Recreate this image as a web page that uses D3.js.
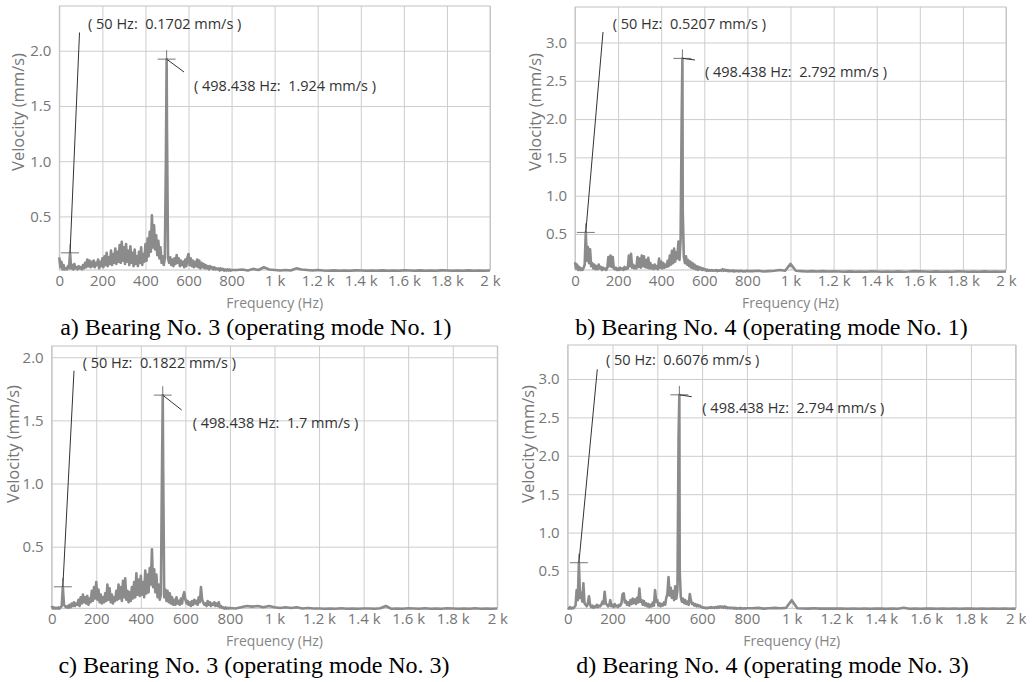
<!DOCTYPE html>
<html>
<head>
<meta charset="utf-8">
<script src="https://cdn.jsdelivr.net/npm/d3@7"></script>
<style>
  body { margin: 0; background: #fff; }
  svg { display: block; }
  text { font-family: "Open Sans", sans-serif; }
</style>
</head>
<body>
<div id="chart"></div>
<script>
// tick labels
var freqTicks = [0, 200, 400, 600, 800, 1000, 1200, 1400, 1600, 1800, 2000];
var freqTickLabels = ["0", "200", "400", "600", "800", "1 k", "1.2 k", "1.4 k", "1.6 k", "1.8 k", "2 k"];
var velTicks2 = [0.5, 1.0, 1.5, 2.0];
var velTicks3 = [0.5, 1.0, 1.5, 2.0, 2.5, 3.0];
var velTickLabels2 = ["0.5", "1.0", "1.5", "2.0"];
var velTickLabels3 = ["0.5", "1.0", "1.5", "2.0", "2.5", "3.0"];

var captions = [
  "a) Bearing No. 3 (operating mode No. 1)",
  "b) Bearing No. 4 (operating mode No. 1)",
  "c) Bearing No. 3 (operating mode No. 3)",
  "d) Bearing No. 4 (operating mode No. 3)"
];

// spectrum: 0..800 Hz every 5 Hz, 825..2000 Hz every 25 Hz (mm/s)
var lowStepHz = 5, highStartHz = 825, highStepHz = 25;

var lowA = [
  0.13, 0.04, 0.09, 0.02, 0.06, 0.02, 0.03, 0.02, 0.05, 0.03,
  0.17, 0.03, 0.06, 0.02, 0.07, 0.03, 0.04, 0.02, 0.05, 0.03,
  0.04, 0.02, 0.06, 0.03, 0.08, 0.04, 0.11, 0.05, 0.10, 0.04,
  0.09, 0.05, 0.10, 0.04, 0.08, 0.06, 0.11, 0.03, 0.09, 0.05,
  0.12, 0.04, 0.14, 0.06, 0.17, 0.05, 0.13, 0.07, 0.19, 0.06,
  0.16, 0.08, 0.21, 0.07, 0.18, 0.09, 0.24, 0.08, 0.27, 0.10,
  0.22, 0.07, 0.25, 0.09, 0.19, 0.06, 0.23, 0.08, 0.17, 0.05,
  0.20, 0.07, 0.14, 0.05, 0.18, 0.08, 0.22, 0.06, 0.16, 0.09,
  0.25, 0.10, 0.30, 0.14, 0.36, 0.18, 0.51, 0.22, 0.42, 0.20,
  0.33, 0.15, 0.28, 0.12, 0.22, 0.08, 0.14, 0.06, 0.12, 1.00,
  1.30, 0.12, 0.08, 0.13, 0.06, 0.11, 0.05, 0.12, 0.07, 0.15,
  0.08, 0.12, 0.05, 0.10, 0.06, 0.09, 0.04, 0.11, 0.05, 0.13,
  0.16, 0.06, 0.12, 0.05, 0.10, 0.04, 0.09, 0.05, 0.11, 0.04,
  0.10, 0.03, 0.08, 0.04, 0.07, 0.03, 0.06, 0.03, 0.05, 0.02,
  0.05, 0.03, 0.04, 0.02, 0.04, 0.02, 0.03, 0.02, 0.03, 0.01,
  0.03, 0.015, 0.025, 0.01, 0.02, 0.01, 0.02, 0.01, 0.02, 0.01,
  0.015
];
var highA = [
  0.015, 0.02, 0.01, 0.025, 0.015, 0.04, 0.02, 0.015,
  0.01, 0.015, 0.01, 0.03, 0.02, 0.015, 0.01, 0.015,
  0.01, 0.008, 0.012, 0.008, 0.01, 0.008, 0.012, 0.01,
  0.008, 0.01, 0.008, 0.012, 0.008, 0.01, 0.008, 0.012,
  0.01, 0.008, 0.012, 0.008, 0.01, 0.008, 0.012, 0.01,
  0.008, 0.01, 0.008, 0.012, 0.008, 0.01, 0.008, 0.01
];
var markA = [[50, 0.1702], [498.438, 1.924]];
var toneA = [];

var lowB = [
  0.13, 0.05, 0.10, 0.03, 0.07, 0.03, 0.05, 0.03, 0.06, 0.10,
  0.52, 0.15, 0.33, 0.12, 0.30, 0.08, 0.12, 0.05, 0.10, 0.04,
  0.08, 0.04, 0.10, 0.05, 0.07, 0.03, 0.06, 0.04, 0.05, 0.03,
  0.06, 0.20, 0.08, 0.22, 0.07, 0.20, 0.05, 0.04, 0.06, 0.03,
  0.05, 0.03, 0.06, 0.04, 0.05, 0.03, 0.07, 0.04, 0.06, 0.05,
  0.22, 0.08, 0.24, 0.06, 0.10, 0.05, 0.08, 0.05, 0.20, 0.07,
  0.18, 0.06, 0.22, 0.08, 0.21, 0.07, 0.16, 0.06, 0.19, 0.05,
  0.12, 0.05, 0.09, 0.04, 0.10, 0.05, 0.08, 0.04, 0.18, 0.06,
  0.14, 0.05, 0.12, 0.06, 0.10, 0.07, 0.15, 0.08, 0.22, 0.10,
  0.28, 0.12, 0.31, 0.14, 0.26, 0.18, 0.40, 0.16, 0.42, 2.00,
  0.80, 0.20, 0.12, 0.21, 0.10, 0.16, 0.08, 0.14, 0.06, 0.12,
  0.05, 0.10, 0.04, 0.08, 0.03, 0.07, 0.04, 0.06, 0.03, 0.05,
  0.03, 0.04, 0.02, 0.035, 0.02, 0.03, 0.02, 0.03, 0.02, 0.025,
  0.02, 0.03, 0.015, 0.025, 0.02, 0.03, 0.02, 0.04, 0.02, 0.035,
  0.02, 0.03, 0.015, 0.025, 0.015, 0.02, 0.015, 0.025, 0.01, 0.02,
  0.015, 0.02, 0.01, 0.02, 0.015, 0.02, 0.01, 0.015, 0.01, 0.02,
  0.015
];
var highB = [
  0.015, 0.02, 0.01, 0.015, 0.02, 0.03, 0.02, 0.02,
  0.02, 0.015, 0.01, 0.015, 0.01, 0.015, 0.01, 0.012,
  0.01, 0.008, 0.012, 0.008, 0.01, 0.008, 0.012, 0.01,
  0.008, 0.01, 0.008, 0.012, 0.008, 0.01, 0.015, 0.012,
  0.01, 0.008, 0.012, 0.008, 0.01, 0.008, 0.012, 0.01,
  0.008, 0.01, 0.008, 0.012, 0.008, 0.01, 0.008, 0.01
];
var markB = [[50, 0.5207], [498.438, 2.792]];
var toneB = [[1000, 0.11]];

var lowC = [
  0.03, 0.01, 0.02, 0.01, 0.015, 0.01, 0.02, 0.01, 0.02, 0.03,
  0.18, 0.04, 0.03, 0.02, 0.03, 0.015, 0.04, 0.02, 0.05, 0.03,
  0.06, 0.03, 0.05, 0.04, 0.08, 0.03, 0.10, 0.05, 0.12, 0.06,
  0.10, 0.05, 0.11, 0.04, 0.09, 0.06, 0.15, 0.07, 0.18, 0.09,
  0.22, 0.08, 0.16, 0.06, 0.12, 0.05, 0.10, 0.06, 0.13, 0.07,
  0.20, 0.08, 0.17, 0.06, 0.12, 0.05, 0.10, 0.07, 0.15, 0.08,
  0.20, 0.09, 0.18, 0.07, 0.23, 0.10, 0.25, 0.08, 0.15, 0.06,
  0.14, 0.07, 0.18, 0.09, 0.22, 0.10, 0.29, 0.12, 0.24, 0.11,
  0.27, 0.12, 0.22, 0.10, 0.31, 0.13, 0.28, 0.14, 0.33, 0.20,
  0.48, 0.18, 0.32, 0.14, 0.28, 0.10, 0.20, 0.08, 0.12, 1.10,
  1.20, 0.10, 0.16, 0.07, 0.15, 0.06, 0.13, 0.05, 0.10, 0.04,
  0.08, 0.04, 0.10, 0.05, 0.07, 0.04, 0.09, 0.05, 0.11, 0.14,
  0.08, 0.05, 0.07, 0.04, 0.06, 0.03, 0.07, 0.04, 0.08, 0.05,
  0.07, 0.04, 0.10, 0.06, 0.18, 0.08, 0.06, 0.04, 0.05, 0.03,
  0.07, 0.04, 0.06, 0.03, 0.05, 0.04, 0.06, 0.03, 0.05, 0.03,
  0.06, 0.02, 0.03, 0.015, 0.02, 0.01, 0.02, 0.01, 0.015, 0.01,
  0.015
];
var highC = [
  0.01, 0.02, 0.03, 0.025, 0.03, 0.02, 0.03, 0.02,
  0.015, 0.02, 0.015, 0.02, 0.01, 0.015, 0.01, 0.01,
  0.008, 0.01, 0.008, 0.012, 0.008, 0.01, 0.008, 0.01,
  0.01, 0.008, 0.012, 0.03, 0.008, 0.01, 0.008, 0.012,
  0.01, 0.008, 0.012, 0.008, 0.01, 0.008, 0.012, 0.01,
  0.008, 0.01, 0.008, 0.012, 0.008, 0.01, 0.008, 0.01
];
var markC = [[50, 0.1822], [498.438, 1.7]];
var toneC = [];

var lowD = [
  0.02, 0.01, 0.03, 0.01, 0.02, 0.015, 0.03, 0.05, 0.25, 0.12,
  0.61, 0.15, 0.22, 0.10, 0.34, 0.08, 0.06, 0.04, 0.08, 0.17,
  0.06, 0.03, 0.05, 0.02, 0.04, 0.03, 0.06, 0.03, 0.05, 0.04,
  0.06, 0.10, 0.07, 0.23, 0.08, 0.06, 0.04, 0.05, 0.12, 0.04,
  0.06, 0.03, 0.07, 0.04, 0.05, 0.03, 0.06, 0.05, 0.08, 0.20,
  0.21, 0.09, 0.11, 0.06, 0.09, 0.05, 0.12, 0.07, 0.14, 0.08,
  0.13, 0.07, 0.15, 0.09, 0.27, 0.10, 0.12, 0.06, 0.11, 0.05,
  0.08, 0.04, 0.07, 0.03, 0.06, 0.04, 0.09, 0.05, 0.25, 0.10,
  0.12, 0.05, 0.08, 0.04, 0.07, 0.05, 0.09, 0.06, 0.15, 0.20,
  0.42, 0.18, 0.28, 0.15, 0.24, 0.12, 0.30, 0.14, 0.25, 2.25,
  0.50, 0.16, 0.10, 0.14, 0.08, 0.12, 0.07, 0.10, 0.06, 0.20,
  0.12, 0.07, 0.08, 0.05, 0.07, 0.04, 0.06, 0.04, 0.05, 0.03,
  0.03, 0.02, 0.025, 0.015, 0.02, 0.015, 0.025, 0.02, 0.03, 0.02,
  0.025, 0.02, 0.03, 0.02, 0.035, 0.02, 0.04, 0.025, 0.035, 0.02,
  0.04, 0.02, 0.03, 0.015, 0.025, 0.015, 0.02, 0.015, 0.02, 0.01,
  0.02, 0.01, 0.015, 0.01, 0.02, 0.01, 0.015, 0.01, 0.015, 0.01,
  0.015
];
var highD = [
  0.015, 0.02, 0.01, 0.015, 0.02, 0.015, 0.02, 0.02,
  0.015, 0.012, 0.01, 0.015, 0.01, 0.012, 0.01, 0.012,
  0.01, 0.008, 0.012, 0.008, 0.01, 0.008, 0.012, 0.01,
  0.008, 0.01, 0.008, 0.02, 0.008, 0.01, 0.008, 0.012,
  0.01, 0.008, 0.012, 0.008, 0.01, 0.008, 0.012, 0.01,
  0.008, 0.01, 0.008, 0.012, 0.008, 0.01, 0.008, 0.01
];
var markD = [[50, 0.6076], [498.438, 2.794]];
var toneD = [[1000, 0.12]];

// layout of the four panels (pixels)
var panels = [
  {low: lowA, high: highA, marks: markA, tones: toneA, ticks: velTicks2, tickLabels: velTickLabels2,
   vmin: 0.015, vmax: 2.405, box: [59.3, 6, 430.7, 264], yTitle: [18, 112], cap: [255.8, 335],
   markText: [[88, 24], [194, 86]], leaderEnd: [[79.5, 32.5], [184, 72]]},
  {low: lowB, high: highB, marks: markB, tones: toneB, ticks: velTicks3, tickLabels: velTickLabels3,
   vmin: 0.03, vmax: 3.463, box: [575, 7, 431, 263], yTitle: [535, 112], cap: [771.5, 335],
   markText: [[612.7, 24], [705, 72]], leaderEnd: [[603, 32], [695, 60]]},
  {low: lowC, high: highC, marks: markC, tones: toneC, ticks: velTicks2, tickLabels: velTickLabels2,
   vmin: 0.012, vmax: 2.089, box: [51.7, 346, 445.6, 262.3], yTitle: [13, 444], cap: [254, 673],
   markText: [[82.7, 362.7], [192.7, 422.7]], leaderEnd: [[74, 370.7], [181.7, 410]]},
  {low: lowD, high: highD, marks: markD, tones: toneD, ticks: velTicks3, tickLabels: velTickLabels3,
   vmin: 0.014, vmax: 3.443, box: [567.7, 345, 448, 263.3], yTitle: [528, 444], cap: [772.5, 673],
   markText: [[606, 360], [702.3, 408.3]], leaderEnd: [[597.3, 369.3], [691.7, 396.7]]}
];

var svg = d3.select("#chart").append("svg")
  .attr("width", 1035)
  .attr("height", 682);

panels.forEach(function(p, k){
  var bx = p.box[0], by = p.box[1], bw = p.box[2], bh = p.box[3];
  var x = d3.scaleLinear().domain([0, 2000]).range([bx, bx + bw]);
  var y = d3.scaleLinear().domain([p.vmin, p.vmax]).range([by + bh, by]);
  var g = svg.append("g");

  // grid + tick labels
  var xa = g.append("g")
    .attr("transform", "translate(0," + (by + bh) + ")")
    .call(d3.axisBottom(x).tickValues(freqTicks)
      .tickFormat(function(d, i){ return freqTickLabels[i]; })
      .tickSize(-bh).tickPadding(5));
  var ya = g.append("g")
    .attr("transform", "translate(" + bx + ",0)")
    .call(d3.axisLeft(y).tickValues(p.ticks)
      .tickFormat(function(d, i){ return p.tickLabels[i]; })
      .tickSize(-bw).tickPadding(8));
  [xa, ya].forEach(function(a){
    a.select(".domain").remove();
    a.selectAll("line").attr("stroke", "#cdcdcd");
    a.selectAll("text")
      .attr("fill", "#767676")
      .style("font-size", "15px")
      .style("font-family", "'Open Sans', sans-serif");
  });

  g.append("rect")
    .attr("x", bx).attr("y", by)
    .attr("width", bw).attr("height", bh)
    .attr("fill", "none")
    .attr("stroke", "#c2c2c2");

  // spectrum
  var extra = p.marks.concat(p.tones);
  var pts = p.low.map(function(v, i){ return [i * lowStepHz, v]; })
    .concat(p.high.map(function(v, i){ return [highStartHz + i * highStepHz, v]; }))
    .filter(function(d){
      return !extra.some(function(e){ return Math.abs(e[0] - d[0]) < 1; });
    })
    .concat(extra)
    .sort(function(a, b){ return a[0] - b[0]; });

  g.append("path")
    .datum(pts)
    .attr("fill", "none")
    .attr("stroke", "#8b8b8b")
    .attr("stroke-width", 2.6)
    .attr("stroke-linejoin", "round")
    .attr("d", d3.line().x(function(d){ return x(d[0]); }).y(function(d){ return y(d[1]); }));

  // markers and labels
  p.marks.forEach(function(m, j){
    var px = x(m[0]), py = y(m[1]);
    g.append("line")
      .attr("x1", px - 9).attr("x2", px + 9)
      .attr("y1", py).attr("y2", py)
      .attr("stroke", "#777").attr("stroke-width", 1);
    g.append("line")
      .attr("x1", px).attr("x2", px)
      .attr("y1", py - 9).attr("y2", py)
      .attr("stroke", "#777").attr("stroke-width", 1);
    g.append("line")
      .attr("x1", px).attr("y1", py)
      .attr("x2", p.leaderEnd[j][0]).attr("y2", p.leaderEnd[j][1])
      .attr("stroke", "#333").attr("stroke-width", 1);
    g.append("text")
      .attr("x", p.markText[j][0])
      .attr("y", p.markText[j][1])
      .attr("dy", "0.35em")
      .style("white-space", "pre")
      .style("font-size", "14.5px")
      .attr("fill", "#333")
      .text("( " + m[0] + " Hz:  " + m[1] + " mm/s )");
  });

  g.append("text")
    .attr("x", bx + bw / 2)
    .attr("y", by + bh + 33)
    .attr("dy", "0.35em")
    .attr("text-anchor", "middle")
    .attr("fill", "#858585")
    .style("font-size", "14px")
    .text("Frequency (Hz)");

  g.append("text")
    .attr("transform", "translate(" + p.yTitle[0] + "," + p.yTitle[1] + ") rotate(-90)")
    .attr("dy", "0.35em")
    .attr("text-anchor", "middle")
    .attr("fill", "#767676")
    .style("font-size", "16.5px")
    .text("Velocity (mm/s)");

  g.append("text")
    .attr("x", p.cap[0])
    .attr("y", p.cap[1])
    .attr("text-anchor", "middle")
    .attr("fill", "#000")
    .style("font-family", "'Liberation Serif', 'Times New Roman', serif")
    .style("font-size", "24px")
    .text(captions[k]);
});
</script>
</body>
</html>
